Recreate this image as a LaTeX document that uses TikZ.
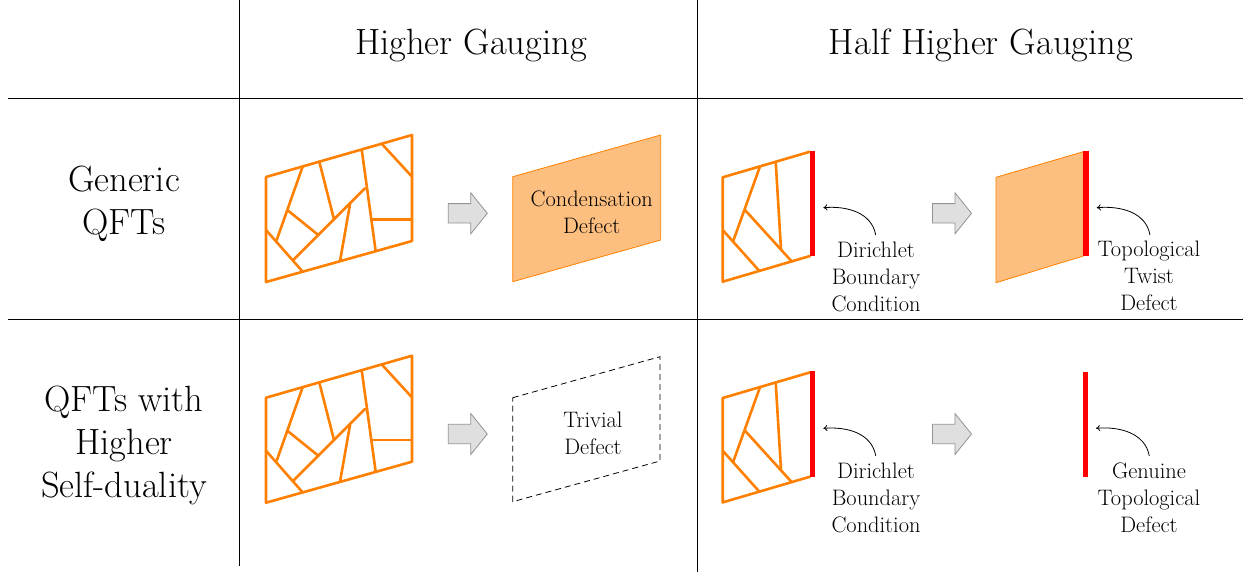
\documentclass[tikz,border=0pt]{standalone}
\usetikzlibrary{arrows.meta}
\definecolor{meshorange}{RGB}{255,128,0}
\definecolor{defectfill}{RGB}{253,191,127}
\tikzset{
  gridline/.style={line width=1pt},
  mesh/.style={draw=meshorange, line width=2.6pt, line join=round, line cap=round},
  redline/.style={draw=red, line width=5.5pt},
  bigtxt/.style={font=\fontsize{36.5}{43}\selectfont, align=center, inner sep=0pt},
  smalltxt/.style={font=\fontsize{22.4}{27}\selectfont, align=center, inner sep=0pt},
  pointer/.style={-{To[length=4pt,width=6pt]}, line width=0.8pt},
  gaugearrow/.style={fill=gray!25, draw=gray!85, line width=0.8pt, line join=miter},
  fullmesh/.pic={
    \draw[mesh] (0,0) -- (146,-42) -- (146,64) -- (0,105) -- cycle;
    \draw[mesh] (36.7,-10.6) -- (10.7,63);
    \draw[mesh] (53.3,-15.3) -- (68,42.3);
    \draw[mesh] (95.7,-27.5) -- (109.7,74.2);
    \draw[mesh] (115.7,-33.3) -- (146,-0.3);
    \draw[mesh] (106.3,42.3) -- (146,42.3);
    \draw[mesh] (21.3,33) -- (52.3,58);
    \draw[mesh] (99,11.3) -- (27.3,83);
    \draw[mesh] (84,27.3) -- (74,84.2);
    \draw[mesh] (0,53) -- (36.7,94.7);
  },
  halfmesh/.pic={
    \draw[mesh] (87.3,-25.6) -- (0,0) -- (0,104.4) -- (87.3,78.7);
    \draw[mesh] (37.3,-10.9) -- (10.6,63.5);
    \draw[mesh] (53,-15.5) -- (58.3,71.8);
    \draw[mesh] (22.3,32.7) -- (69,84.1);
    \draw[mesh] (0,52.7) -- (36.6,93.6);
  },
  bigarrow/.pic={
    \draw[gaugearrow] (0,-9.7) -- (22.4,-9.7) -- (22.4,-20.6) -- (39,0) -- (22.4,20.6) -- (22.4,9.7) -- (0,9.7) -- cycle;
  }
}
\begin{document}
\begin{tikzpicture}[x=1pt,y=-1pt]
\useasboundingbox (0,0) rectangle (1248,574);

% table grid
\coordinate (h1l) at (8,98.3);
\coordinate (h1r) at (1243,98.3);
\coordinate (h2l) at (8,319.5);
\coordinate (h2r) at (1243,319.5);
\coordinate (v1t) at (239,0);
\coordinate (v1b) at (239,566);
\coordinate (v2t) at (697,0);
\coordinate (v2b) at (697,572);
\draw[gridline] (h1l) -- (h1r);
\draw[gridline] (h2l) -- (h2r);
\draw[gridline] (v1t) -- (v1b);
\draw[gridline] (v2t) -- (v2b);

% headers
\node[bigtxt] (hg) at (471,45) {Higher Gauging};
\node[bigtxt] (hhg) at (981,45) {Half Higher Gauging};
\node[bigtxt] (row1) at (124,204) {Generic\\QFTs};
\node[bigtxt] (row2) at (124,445) {QFTs with\\Higher\\Self-duality};

% ---------- row 1 ----------
\pic at (266,177) {fullmesh};
\pic at (448.3,213.3) {bigarrow};
\coordinate (c1a) at (512.7,176.7);
\coordinate (c1b) at (660.7,135);
\coordinate (c1c) at (660.7,240);
\coordinate (c1d) at (512.7,281.7);
\filldraw[fill=defectfill, draw=meshorange, line width=0.8pt] (c1a) -- (c1b) -- (c1c) -- (c1d) -- cycle;
\node[smalltxt] (cond) at (591.7,212) {Condensation\\Defect};

\pic at (722.7,177.3) {halfmesh};
\coordinate (r1t) at (812.5,150.7);
\coordinate (r1b) at (812.5,256);
\draw[redline] (r1t) -- (r1b);
\node[smalltxt, anchor=north] (dir1) at (876,242) {Dirichlet\\Boundary\\Condition};
\coordinate (d1s) at (875.7,235);
\coordinate (d1e) at (823.3,207.7);
\draw[pointer] (d1s) to[out=100,in=5] (d1e);

\pic at (932.5,213.3) {bigarrow};
\coordinate (t1a) at (996,177.3);
\coordinate (t1b) at (1083.3,151.7);
\coordinate (t1c) at (1083.3,256);
\coordinate (t1d) at (996,282.7);
\filldraw[fill=defectfill, draw=meshorange, line width=0.8pt] (t1a) -- (t1b) -- (t1c) -- (t1d) -- cycle;
\coordinate (r2t) at (1086,150.7);
\coordinate (r2b) at (1086,256);
\draw[redline] (r2t) -- (r2b);
\node[smalltxt, anchor=north] (twist) at (1149,241) {Topological\\Twist\\Defect};
\coordinate (t1s) at (1150,235);
\coordinate (t1e) at (1096.7,207.7);
\draw[pointer] (t1s) to[out=100,in=5] (t1e);

% ---------- row 2 ----------
\pic at (266,397.7) {fullmesh};
\pic at (448.3,434) {bigarrow};
\coordinate (c2a) at (512.7,397.7);
\coordinate (c2b) at (660,356.7);
\coordinate (c2c) at (660,461);
\coordinate (c2d) at (512.7,501.7);
\draw[dash pattern=on 6pt off 4pt, line width=0.8pt] (c2a) -- (c2b) -- (c2c) -- (c2d) -- cycle;
\node[smalltxt] (triv) at (593,433) {Trivial\\Defect};

\pic at (722.7,398) {halfmesh};
\coordinate (r3t) at (812.5,371.4);
\coordinate (r3b) at (812.5,476.7);
\draw[redline] (r3t) -- (r3b);
\node[smalltxt, anchor=north] (dir2) at (876,463) {Dirichlet\\Boundary\\Condition};
\coordinate (d2s) at (875.7,455.7);
\coordinate (d2e) at (823.3,428.4);
\draw[pointer] (d2s) to[out=100,in=5] (d2e);

\pic at (932.5,434) {bigarrow};
\coordinate (r4t) at (1085.5,371.7);
\coordinate (r4b) at (1085.5,476.7);
\draw[redline] (r4t) -- (r4b);
\node[smalltxt, anchor=north] (gen) at (1149,463) {Genuine\\Topological\\Defect};
\coordinate (g1s) at (1149.3,456);
\coordinate (g1e) at (1096,428.3);
\draw[pointer] (g1s) to[out=100,in=5] (g1e);
\end{tikzpicture}
\end{document}
